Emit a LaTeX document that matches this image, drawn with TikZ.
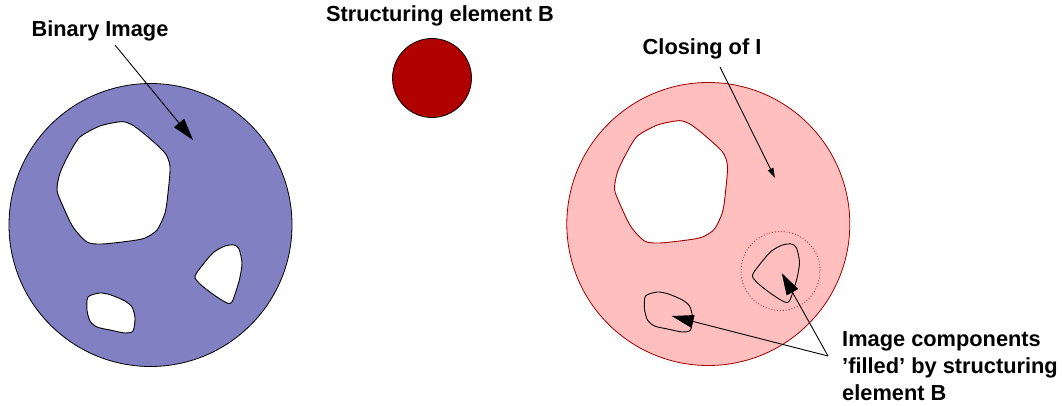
\documentclass[tikz,border=0pt]{standalone}
\usepackage{fontspec}
\setmainfont{Liberation Sans}
\usetikzlibrary{arrows.meta}

\definecolor{imgblue}{RGB}{128,128,194}
\definecolor{closepink}{RGB}{255,191,191}
\definecolor{closeedge}{RGB}{160,0,0}
\definecolor{selemred}{RGB}{176,0,0}
\definecolor{dotred}{RGB}{205,40,40}

% hole outlines, in the frame of the left disc
\def\bighole{plot[smooth cycle, tension=0.45] coordinates {
  (118,122) (100,126) (80,137) (69,154) (60,173) (57,190) (62,204) (73,227)
  (87,242) (102,244) (130,241) (145,238) (157,230) (165,213) (168,193)
  (170,167) (165,153) (148,137) (134,126) (125,122)}}
\def\sidehole{plot[smooth cycle, tension=0.45] coordinates {
  (195,276) (205,262) (214,252) (225,246) (234,245) (239,249) (242,263)
  (240,277) (237,288) (232,302) (227,303) (214,295) (200,284)}}
\def\lowhole{plot[smooth cycle, tension=0.45] coordinates {
  (88,297) (100,293) (111,295) (125,301) (132,307) (135,318) (133,331)
  (125,333) (110,330) (97,327) (90,321) (87,310)}}

\tikzset{
  label/.style={font=\fontsize{21.8pt}{27pt}\selectfont\bfseries, inner sep=0pt},
  disc/.style={circle, draw, line width=0.8pt, inner sep=0pt},
  bigarrow/.style={line width=0.9pt, -{Triangle[length=22pt,width=13pt]}},
  thinarrow/.style={line width=0.9pt, -{Triangle[length=10pt,width=6pt]}},
  outline/.style={line width=0.9pt},
}

\begin{document}
\begin{tikzpicture}[x=1pt, y=-1pt]
\useasboundingbox (0,0) rectangle (1062,406);

% binary image
\node[disc, fill=imgblue, minimum size=283pt] (bin) at (150.5,225) {};
\fill[white, draw=black, outline] \bighole;
\fill[white, draw=black, outline] \sidehole;
\fill[white, draw=black, outline] \lowhole;

% structuring element
\node[disc, fill=selemred, minimum size=79pt] (selem) at (432,78) {};

% closing of the image
\node[disc, draw=closeedge, fill=closepink, minimum size=283pt] (clos) at (708.3,224) {};
\begin{scope}[xshift=557.5pt, yshift=1pt]
  \fill[white, draw=closeedge, outline] \bighole;
  \draw[outline] \sidehole;
  \draw[outline] \lowhole;
\end{scope}
\node[circle, draw=dotred, dotted, line width=0.9pt, minimum size=79pt, inner sep=0pt] (probe) at (780.5,271) {};

% labels
\node[label, anchor=base] (lbin) at (100,37) {Binary Image};
\node[label, anchor=base] (lselem) at (440,22) {Structuring element B};
\node[label, anchor=base west] (lclos) at (642.5,55) {Closing of I};
\node[label, anchor=north west, align=left] (lfill) at (842,331.5)
  {Image components\\'filled' by structuring\\element B};

% arrows
\coordinate (binfrom) at (115,45);
\coordinate (binto) at (193,140);
\coordinate (closfrom) at (720,67);
\coordinate (closto) at (775,178);
\coordinate (fillfrom) at (828,356);
\coordinate (fillA) at (781.7,273);
\coordinate (fillB) at (671.7,316);

\draw[bigarrow] (binfrom) -- (binto);
\draw[thinarrow] (closfrom) -- (closto);
\draw[bigarrow] (fillfrom) -- (fillA);
\draw[bigarrow] (fillfrom) -- (fillB);
\end{tikzpicture}
\end{document}
